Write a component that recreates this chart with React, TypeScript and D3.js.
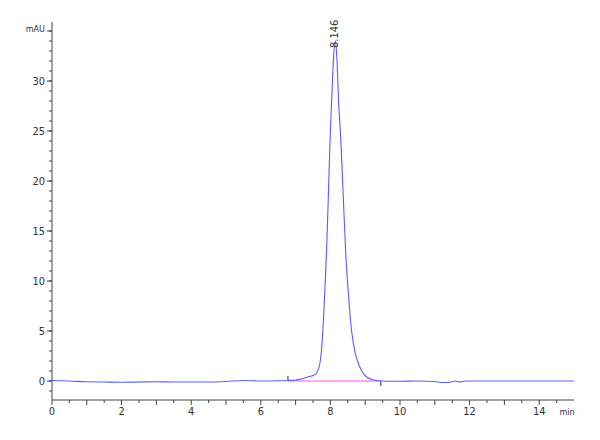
import React, {useEffect, useRef} from 'react';
import * as d3 from 'd3';

// retention time (min) and absorbance (mAU)
const times = [
    0, 0.5, 1.0, 1.5, 2.0, 2.5, 3.0, 3.5, 4.0, 4.5, 5.0, 5.5, 6.0, 6.5, 6.78, 7.0, 7.2, 7.4, 7.5, 7.6,
    7.7, 7.78, 7.85, 7.9, 7.94, 7.99, 8.04, 8.09, 8.146, 8.19, 8.23, 8.3, 8.37, 8.44, 8.52, 8.61, 8.7,
    8.8, 8.92, 9.04, 9.2, 9.45, 10.0, 10.5, 11.0, 11.2, 11.4, 11.6, 11.7, 11.9, 12.5, 13.0, 14.0, 15.0,
];
const signal = [
    0.05, 0.0, -0.08, -0.1, -0.12, -0.1, -0.08, -0.1, -0.1, -0.1, -0.05, 0.05, 0.0, 0.02, 0.05, 0.1, 0.25, 0.45, 0.55, 0.8,
    1.8, 4.8, 9.8, 14.0, 18.4, 24.1, 28.4, 32.3, 34.0, 32.0, 28.4, 24.1, 18.4, 12.8, 8.6, 5.0, 3.0,
    1.8, 0.9, 0.4, 0.15, 0.0, -0.02, 0.0, -0.05, -0.15, -0.15, 0.0, -0.1, 0.0, 0.0, 0.0, 0.0, 0.0,
];

const peakLabels = ['8.146'];
const peakTimes = [8.146];
const peakHeights = [34.0];
const integrationStart = 6.78;
const integrationEnd = 9.45;

const yMajorTicks = [0, 5, 10, 15, 20, 25, 30];
const xMajorTicks = [0, 2, 4, 6, 8, 10, 12, 14];

const WIDTH = 600;
const HEIGHT = 440;
const FONT = '"Liberation Sans Narrow", "Arial Narrow", "DejaVu Sans Condensed", sans-serif';

const App: React.FC = () => {
    const svgRef = useRef<SVGSVGElement | null>(null);

    useEffect(() => {
        if (svgRef.current) {
            drawChart();
        }
    }, []);

    const drawChart = () => {
        const svg = d3.select(svgRef.current);
        svg.selectAll('*').remove();

        const x = d3.scaleLinear().domain([0, 15]).range([52, 574]);
        const y = d3.scaleLinear().domain([-1.9, 35.9]).range([400, 22]);

        // y axis: minor ticks every 1 mAU, labelled every 5
        const yAxis = svg.append('g').attr('transform', `translate(${x(0)},0)`);
        yAxis.append('line')
            .attr('x1', 0).attr('x2', 0)
            .attr('y1', y.range()[0]).attr('y2', y.range()[1])
            .attr('stroke', '#444');
        yAxis.selectAll('.yminor')
            .data(d3.range(-1, 36, 1))
            .enter().append('line')
            .attr('x1', -3).attr('x2', 0)
            .attr('y1', (d) => y(d)).attr('y2', (d) => y(d))
            .attr('stroke', '#444');
        yAxis.selectAll('.ymajor')
            .data([...yMajorTicks, 35])
            .enter().append('line')
            .attr('x1', -5).attr('x2', 0)
            .attr('y1', (d) => y(d)).attr('y2', (d) => y(d))
            .attr('stroke', '#444');
        yAxis.selectAll('.ylabel')
            .data(yMajorTicks)
            .enter().append('text')
            .attr('x', -7)
            .attr('y', (d) => y(d))
            .attr('dy', '0.35em')
            .attr('text-anchor', 'end')
            .style('font-family', FONT)
            .style('font-size', '11px')
            .style('fill', '#333')
            .text((d) => d);
        yAxis.append('text')
            .attr('x', -7)
            .attr('y', y(35))
            .attr('dy', '0.1em')
            .attr('text-anchor', 'end')
            .style('font-family', FONT)
            .style('font-size', '9px')
            .style('fill', '#333')
            .text('mAU');

        // x axis: minor ticks every 0.5 min, labelled every 2
        const xAxis = svg.append('g').attr('transform', `translate(0,${y(-1.9)})`);
        xAxis.append('line')
            .attr('x1', x(0)).attr('x2', x(15))
            .attr('y1', 0).attr('y2', 0)
            .attr('stroke', '#444');
        xAxis.selectAll('.xminor')
            .data(d3.range(0.5, 15, 1))
            .enter().append('line')
            .attr('x1', (d) => x(d)).attr('x2', (d) => x(d))
            .attr('y1', 0).attr('y2', 3)
            .attr('stroke', '#444');
        xAxis.selectAll('.xmajor')
            .data(d3.range(0, 15, 1))
            .enter().append('line')
            .attr('x1', (d) => x(d)).attr('x2', (d) => x(d))
            .attr('y1', 0).attr('y2', 5)
            .attr('stroke', '#444');
        xAxis.selectAll('.xlabel')
            .data(xMajorTicks)
            .enter().append('text')
            .attr('x', (d) => x(d))
            .attr('y', 15)
            .attr('text-anchor', 'middle')
            .style('font-family', FONT)
            .style('font-size', '11px')
            .style('fill', '#333')
            .text((d) => d);
        xAxis.append('text')
            .attr('x', x(14.8))
            .attr('y', 15)
            .attr('text-anchor', 'middle')
            .style('font-family', FONT)
            .style('font-size', '9px')
            .style('fill', '#333')
            .text('min');

        // integration baseline and its start/end markers
        svg.append('line')
            .attr('x1', x(integrationStart)).attr('x2', x(integrationEnd))
            .attr('y1', y(0)).attr('y2', y(0))
            .attr('stroke', '#ff55ff')
            .attr('stroke-width', 1.2);
        svg.append('line')
            .attr('x1', x(integrationStart)).attr('x2', x(integrationStart))
            .attr('y1', y(0) - 5).attr('y2', y(0))
            .attr('stroke', '#333');
        svg.append('line')
            .attr('x1', x(integrationEnd)).attr('x2', x(integrationEnd))
            .attr('y1', y(0)).attr('y2', y(0) + 5)
            .attr('stroke', '#333');

        // chromatogram trace
        const points: [number, number][] = times.map((t, i) => [t, signal[i]]);
        const line = d3.line<[number, number]>()
            .x((d) => x(d[0]))
            .y((d) => y(d[1]))
            .curve(d3.curveMonotoneX);
        svg.append('path')
            .attr('d', line(points) as string)
            .attr('fill', 'none')
            .attr('stroke', '#5c5cff')
            .attr('stroke-width', 1.1);

        // retention time labels
        peakLabels.forEach((label, i) => {
            const px = x(peakTimes[i]) + 3;
            const py = y(peakHeights[i]) + 7;
            svg.append('text')
                .attr('transform', `translate(${px},${py}) rotate(-90)`)
                .style('font-family', FONT)
                .style('font-size', '11px')
                .style('fill', '#333')
                .text(label);
        });
    };

    return (
        <svg
            ref={svgRef}
            width={WIDTH}
            height={HEIGHT}
            style={{position: 'absolute', left: 0, top: 0, background: '#fff'}}
        ></svg>
    );
};

export default App;
